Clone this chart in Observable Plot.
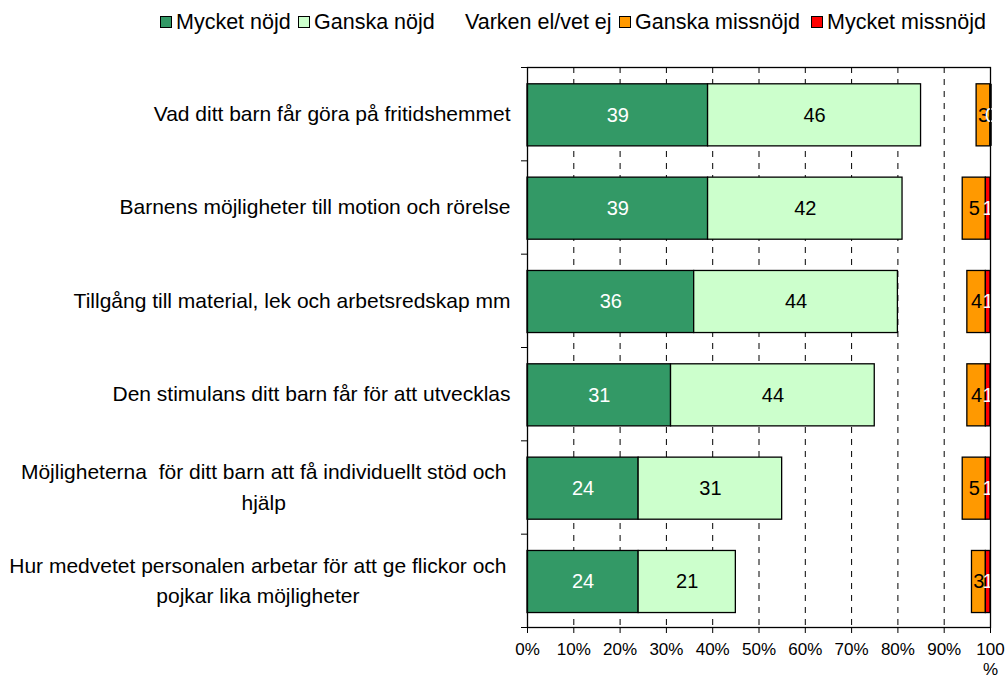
<!DOCTYPE html>
<html>
<head>
<meta charset="utf-8">
<script src="https://cdn.jsdelivr.net/npm/d3@7"></script>
<script src="https://cdn.jsdelivr.net/npm/@observablehq/plot@0.6"></script>
<style>
  html, body { margin: 0; padding: 0; background: #fff; }
  body { font-family: "Liberation Sans", Arial, sans-serif; color: #000; width: 1006px; }
  #legend { height: 45px; position: relative; font-size: 21.5px; }
  .item { position: absolute; top: 10px; display: flex; align-items: center; white-space: pre; height: 24px; }
  .sw { width: 12px; height: 12px; border: 1.5px solid #000; margin-right: 4px; box-sizing: border-box; }
  .sw.none { border-color: transparent; }
</style>
</head>
<body>
<div id="legend"></div>
<div id="chart"></div>
<script>
// ---- data ----
const categories = [
  "Vad ditt barn får göra på fritidshemmet",
  "Barnens möjligheter till motion och rörelse",
  "Tillgång till material, lek och arbetsredskap mm",
  "Den stimulans ditt barn får för att utvecklas",
  "Möjligheterna  för ditt barn att få individuellt stöd och\nhjälp",
  "Hur medvetet personalen arbetar för att ge flickor och\npojkar lika möjligheter"
];
const seriesNames = ["Mycket nöjd", "Ganska nöjd", "Varken el/vet ej", "Ganska missnöjd", "Mycket missnöjd"];
const mycketNojd     = [39, 39, 36, 31, 24, 24];
const ganskaNojd     = [46, 42, 44, 44, 31, 21];
const varken         = [12, 13, 15, 20, 39, 51];
const ganskaMissnojd = [3, 5, 4, 4, 5, 3];
const mycketMissnojd = [0, 1, 1, 1, 1, 1];
const xTicks = [0, 10, 20, 30, 40, 50, 60, 70, 80, 90, 100];

// ---- styles ----
const colors = ["#339966", "#CCFFCC", "none", "#FF9900", "#FF0000"];
const labelColors = ["#fff", "#000", "none", "#000", "#fff"];
const legendLeft = [160, 298, 449, 619, 811];
const FONT = '"Liberation Sans", Arial, sans-serif';

// legend
const legend = document.getElementById("legend");
seriesNames.forEach((name, s) => {
  const it = document.createElement("div");
  it.className = "item";
  it.style.left = legendLeft[s] + "px";
  const sw = document.createElement("span");
  sw.className = "sw" + (colors[s] === "none" ? " none" : "");
  sw.style.background = colors[s] === "none" ? "transparent" : colors[s];
  it.appendChild(sw);
  it.appendChild(document.createTextNode(name));
  legend.appendChild(it);
});

// stacked table
const seriesValues = [mycketNojd, ganskaNojd, varken, ganskaMissnojd, mycketMissnojd];
const rows = [];
categories.forEach((c, i) => {
  let acc = 0;
  seriesValues.forEach((vals, s) => {
    const v = vals[i];
    rows.push({cat: c, i, s, value: v, x1: acc, x2: acc + v});
    acc += v;
  });
});
const shown = rows.filter(d => d.s !== 2);

const legendH = 45;
const totalH = 682;
const padTop = 0.18, padBot = 0.845;

// measure label widths for multiline centering
const ctx = document.createElement("canvas").getContext("2d");
const labelSize = 21;
ctx.font = `${labelSize}px "Liberation Sans"`;
const labelMarks = categories.map((c, i) => {
  const lines = c.split("\n");
  if (lines.length === 1) {
    return Plot.text([c], {y: () => i + 0.5, text: d => d, frameAnchor: "left", textAnchor: "end",
      dx: -17, fontSize: labelSize, fill: "#000"});
  }
  const w = Math.max(...lines.map(l => ctx.measureText(l).width));
  return Plot.text([c], {y: () => i + 0.47, text: d => d, frameAnchor: "left", textAnchor: "middle",
    dx: -21 - w / 2, fontSize: labelSize, lineHeight: 1.45, fill: "#000"});
});

const chart = Plot.plot({
  width: 1006,
  height: totalH - legendH,
  marginTop: 67 - legendH,
  marginBottom: 55,
  marginLeft: 527,
  marginRight: 16,
  style: {fontFamily: FONT, fontSize: "17px", color: "#000", background: "#fff"},
  x: {domain: [0, 100], axis: null},
  y: {domain: [0, categories.length], reverse: true, axis: null},
  marks: [
    Plot.ruleX(xTicks.filter(t => t > 0 && t < 100), {stroke: "#000", strokeWidth: 1, strokeDasharray: "6,6"}),
    Plot.rect(shown, {x1: "x1", x2: "x2", y1: d => d.i + padTop, y2: d => d.i + padBot,
      fill: d => colors[d.s], stroke: "#000", strokeWidth: 1.3}),
    Plot.ruleX(shown.filter(d => d.value === 0), {x: "x1", y1: d => d.i + padTop, y2: d => d.i + padBot,
      stroke: "#000", strokeWidth: 2.5}),
    Plot.text(shown, {x: d => (d.x1 + d.x2) / 2, y: d => d.i + (padTop + padBot) / 2, text: d => String(d.value),
      fill: d => labelColors[d.s], fontSize: 20}),
    Plot.frame({stroke: "#000", strokeWidth: 1.3}),
    Plot.axisX({ticks: xTicks, tickFormat: d => d === 100 ? "100\n%" : d + "%", tickSize: 6, tickPadding: 7,
      fontSize: 17, lineHeight: 1.2, stroke: "#000", fill: "#000"}),
    Plot.axisY({ticks: d3.range(0, categories.length + 1), tickFormat: () => "", tickSize: 6, stroke: "#000"}),
    ...labelMarks
  ]
});
document.getElementById("chart").appendChild(chart);
</script>
</body>
</html>
